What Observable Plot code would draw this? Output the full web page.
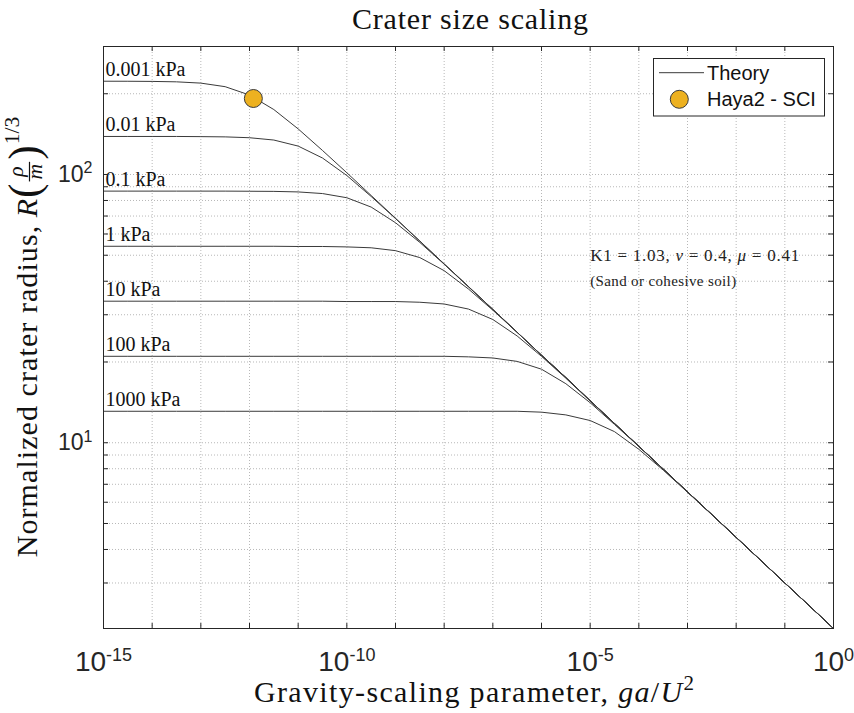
<!DOCTYPE html>
<html>
<head>
<meta charset="utf-8">
<script src="https://cdn.jsdelivr.net/npm/d3@7"></script>
<script src="https://cdn.jsdelivr.net/npm/@observablehq/plot@0.6"></script>
<style>
  body { margin: 0; background: #fff; }
  #chart svg { display: block; }
</style>
</head>
<body>
<div id="chart"></div>
<script>
// Gravity-scaling parameter ga/U^2, sampled every half decade from 1e-15 to 1
const gravityParam = [
  1e-15, 3.162e-15, 1e-14, 3.162e-14, 1e-13, 3.162e-13, 1e-12, 3.162e-12,
  1e-11, 3.162e-11, 1e-10, 3.162e-10, 1e-9, 3.162e-9, 1e-8, 3.162e-8,
  1e-7, 3.162e-7, 1e-6, 3.162e-6, 1e-5, 3.162e-5, 1e-4, 3.162e-4,
  1e-3, 3.162e-3, 1e-2, 3.162e-2, 1e-1, 3.162e-1, 1
];

// Target strength of each theory curve
const strengthLabels = ["0.001 kPa", "0.01 kPa", "0.1 kPa", "1 kPa", "10 kPa", "100 kPa", "1000 kPa"];

// Normalized crater radius R(rho/m)^(1/3) along each curve
const radius0001kPa = [222.7, 222.6, 222.3, 221.5, 219.1, 212.5, 197.8, 174.6, 147.9, 122.9, 101.5, 83.5, 68.7, 56.5, 46.4, 38.2,
                       31.4, 25.8, 21.2, 17.5, 14.35, 11.8, 9.70, 7.98, 6.56, 5.40, 4.44, 3.65, 3.00, 2.47, 2.03];
const radius001kPa  = [138.6, 138.6, 138.6, 138.6, 138.4, 138.1, 137.1, 134.4, 127.6, 115.2, 99.1, 82.8, 68.5, 56.4, 46.4, 38.2,
                       31.4, 25.8, 21.2, 17.5, 14.35, 11.8, 9.70, 7.98, 6.56, 5.40, 4.44, 3.65, 3.00, 2.47, 2.03];
const radius01kPa   = [86.7, 86.7, 86.7, 86.7, 86.7, 86.7, 86.6, 86.5, 86.1, 84.9, 81.9, 75.6, 66.1, 55.8, 46.3, 38.1,
                       31.4, 25.8, 21.2, 17.5, 14.35, 11.8, 9.70, 7.98, 6.56, 5.40, 4.44, 3.65, 3.00, 2.47, 2.03];
const radius1kPa    = [54.0, 54.0, 54.0, 54.0, 54.0, 54.0, 54.0, 54.0, 53.9, 53.9, 53.7, 53.3, 52.0, 49.0, 43.8, 37.4,
                       31.2, 25.8, 21.2, 17.5, 14.35, 11.8, 9.70, 7.98, 6.56, 5.40, 4.44, 3.65, 3.00, 2.47, 2.03];
const radius10kPa   = [33.7, 33.7, 33.7, 33.7, 33.7, 33.7, 33.7, 33.7, 33.7, 33.7, 33.6, 33.6, 33.6, 33.4, 32.9, 31.5,
                       28.8, 25.0, 21.0, 17.4, 14.3, 11.8, 9.70, 7.98, 6.56, 5.40, 4.44, 3.65, 3.00, 2.47, 2.03];
const radius100kPa  = [21.0, 21.0, 21.0, 21.0, 21.0, 21.0, 21.0, 21.0, 21.0, 21.0, 21.0, 21.0, 21.0, 21.0, 21.0, 20.9,
                       20.7, 20.1, 18.8, 16.6, 14.1, 11.7, 9.69, 7.97, 6.56, 5.40, 4.44, 3.65, 3.00, 2.47, 2.03];
const radius1000kPa = [13.1, 13.1, 13.1, 13.1, 13.1, 13.1, 13.1, 13.1, 13.1, 13.1, 13.1, 13.1, 13.1, 13.1, 13.1, 13.1,
                       13.1, 13.1, 13.0, 12.7, 12.1, 11.0, 9.45, 7.91, 6.54, 5.39, 4.43, 3.65, 3.00, 2.47, 2.03];
const radiusSeries = [radius0001kPa, radius001kPa, radius01kPa, radius1kPa, radius10kPa, radius100kPa, radius1000kPa];

// Observed point
const haya2Label = "Haya2 - SCI";
const haya2Gravity = [1.2e-12];
const haya2Radius = [192];

// Axis ticks and grid
const xTickValues = [1e-15, 1e-10, 1e-5, 1];
const xDecades = [1e-15, 1e-14, 1e-13, 1e-12, 1e-11, 1e-10, 1e-9, 1e-8, 1e-7, 1e-6, 1e-5, 1e-4, 1e-3, 1e-2, 1e-1, 1];
const yTickValues = [10, 100];
const yMinorValues = [3, 4, 5, 6, 7, 8, 9, 10, 20, 30, 40, 50, 60, 70, 80, 90, 100, 200, 300];

// Scaling-law parameters note
const noteLines = ["K1 = 1.03, ν = 0.4, μ = 0.41", "(Sand or cohesive soil)"];
const noteGravity = [1e-5, 1e-5];
const noteRadius = [50, 40];
const noteSizes = [17, 15];
const noteWidths = [209, 146];

// Long-format tables for the marks
const theory = strengthLabels.flatMap((label, i) =>
  gravityParam.map((g, j) => ({label, g, r: radiusSeries[i][j]})));
const curveLabels = strengthLabels.map((label, i) => ({label, g: gravityParam[0], r: radiusSeries[i][0]}));
const haya2 = haya2Gravity.map((g, i) => ({g, r: haya2Radius[i]}));
const note = noteLines.map((t, i) => ({t, g: noteGravity[i], r: noteRadius[i], s: noteSizes[i]}));

const W = 854, H = 713;
const M = {top: 46, right: 21, bottom: 85, left: 103};
const innerW = W - M.left - M.right;
const innerH = H - M.top - M.bottom;
const tickLen = 5;
const ink = "#262626";
const serif = "Liberation Serif";
const sans = "Liberation Sans";
const gridStyle = {stroke: "#b8b8b8", strokeOpacity: 1, strokeWidth: 1, strokeDasharray: "1,2"};

const chart = Plot.plot({
  width: W,
  height: H,
  marginTop: M.top,
  marginRight: M.right,
  marginBottom: M.bottom,
  marginLeft: M.left,
  style: {fontFamily: sans, color: ink, background: "#fff"},
  x: {type: "log", domain: [1e-15, 1]},
  y: {type: "log", domain: [2.03, 300]},
  marks: [
    Plot.gridX(xDecades, gridStyle),
    Plot.gridY(yMinorValues, gridStyle),
    Plot.line(theory, {x: "g", y: "r", z: "label", stroke: "#3a3a3a", strokeWidth: 1}),
    Plot.text(curveLabels, {
      x: "g", y: "r", text: "label", textAnchor: "start", lineAnchor: "bottom",
      dx: 2, dy: -5, fontFamily: serif, fontSize: 20, fill: "#111"
    }),
    Plot.dot(haya2, {x: "g", y: "r", r: 9, fill: "#EDB120", stroke: "#3a3a3a", strokeWidth: 1}),
    Plot.text(note, {
      x: "g", y: "r", text: "t", fontSize: "s", textAnchor: "start", lineAnchor: "middle",
      fontFamily: serif, fill: "#222"
    }),
    Plot.frame({stroke: ink, strokeWidth: 1}),
    Plot.tickX(xDecades, {x: d => d, insetTop: innerH - tickLen, stroke: ink}),
    Plot.tickX(xDecades, {x: d => d, insetBottom: innerH - tickLen, stroke: ink}),
    Plot.tickY(yMinorValues, {y: d => d, insetRight: innerW - tickLen, stroke: ink}),
    Plot.tickY(yMinorValues, {y: d => d, insetLeft: innerW - tickLen, stroke: ink}),
    Plot.axisX(xTickValues, {
      tickSize: 0, tickPadding: 23, fontSize: 28, label: null, fill: ink,
      tickFormat: d => `10^${Math.round(Math.log10(d))}`
    }),
    Plot.axisY(yTickValues, {
      tickSize: 0, tickPadding: 11, fontSize: 23, label: null, fill: ink,
      tickFormat: d => `10^${Math.round(Math.log10(d))}`
    })
  ]
});

document.getElementById("chart").appendChild(chart);
const svg = d3.select(chart);

// Power-of-ten tick labels with a raised exponent
function raiseExponent(selection, supSize, raise) {
  selection.each(function () {
    const [base, exp] = this.textContent.split("^");
    this.textContent = "";
    const t = d3.select(this);
    t.append("tspan").text(base);
    t.append("tspan").attr("font-size", supSize).attr("dy", -raise).text(exp);
  });
}
raiseExponent(svg.selectAll('g[aria-label="x-axis tick label"] text'), 18, 10);
raiseExponent(svg.selectAll('g[aria-label="y-axis tick label"] text'), 16, 8.4);

// Greek symbols of the note in italics, each line spread to its set width
svg.selectAll("text")
  .filter(function () { return noteLines.includes(this.textContent); })
  .each(function () {
    const line = this.textContent;
    const idx = noteLines.indexOf(line);
    const parts = line.split(/([νμ])/);
    this.textContent = "";
    const t = d3.select(this);
    parts.forEach(p => {
      if (!p) return;
      const s = t.append("tspan").text(p);
      if (p === "ν" || p === "μ") s.attr("font-style", "italic");
    });
    t.attr("textLength", noteWidths[idx]).attr("lengthAdjust", "spacing");
  });

const plotCenterX = M.left + innerW / 2;
const plotCenterY = M.top + innerH / 2;

// Title
svg.append("text")
  .attr("x", plotCenterX + 2).attr("y", 29)
  .attr("text-anchor", "middle")
  .attr("font-family", serif).attr("font-size", 30).attr("fill", "#111")
  .attr("textLength", 236).attr("lengthAdjust", "spacing")
  .text("Crater size scaling");

// X axis title: Gravity-scaling parameter, ga/U^2
const xTitle = svg.append("text")
  .attr("x", plotCenterX + 6).attr("y", 702)
  .attr("text-anchor", "middle")
  .attr("font-family", serif).attr("font-size", 30).attr("fill", "#111")
  .attr("textLength", 440).attr("lengthAdjust", "spacing");
xTitle.append("tspan").text("Gravity-scaling parameter, ");
xTitle.append("tspan").attr("font-style", "italic").text("ga");
xTitle.append("tspan").text("/");
xTitle.append("tspan").attr("font-style", "italic").text("U");
xTitle.append("tspan").attr("font-size", 21).attr("dy", -12).text("2");

// Y axis title: Normalized crater radius, R(rho/m)^(1/3), built along the rotated baseline
(function yTitle() {
  const F = 30;
  const outer = svg.append("g")
    .attr("transform", `translate(37,${plotCenterY}) rotate(-90)`)
    .attr("font-family", serif).attr("fill", "#111").attr("text-anchor", "start");
  const g = outer.append("g");
  let pos = 0;
  const put = (txt, {size = F, italic = false, dy = 0, length = null} = {}) => {
    const t = g.append("text").attr("x", pos).attr("y", dy).attr("font-size", size)
      .attr("text-anchor", "start").text(txt);
    if (italic) t.attr("font-style", "italic");
    if (length) t.attr("textLength", length).attr("lengthAdjust", "spacing");
    const w = length || t.node().getComputedTextLength();
    pos += w;
    return w;
  };
  put("Normalized crater radius, ", {length: 340});
  put("R", {italic: true});
  pos += 1;
  put("(", {size: 1.45 * F, dy: 0.05 * F});
  pos += 2;
  // stacked fraction rho over m
  const fs = 0.72 * F;
  const num = g.append("text").attr("font-size", fs).attr("font-style", "italic")
    .attr("text-anchor", "start").attr("y", -0.47 * F).text("ρ");
  const den = g.append("text").attr("font-size", fs).attr("font-style", "italic")
    .attr("text-anchor", "start").attr("y", 0.17 * F).text("m");
  const wn = num.node().getComputedTextLength();
  const wd = den.node().getComputedTextLength();
  const fw = Math.max(wn, wd) + 4;
  num.attr("x", pos + (fw - wn) / 2);
  den.attr("x", pos + (fw - wd) / 2);
  g.append("line").attr("x1", pos).attr("x2", pos + fw)
    .attr("y1", -0.25 * F).attr("y2", -0.25 * F)
    .attr("stroke", "#111").attr("stroke-width", 1.2);
  pos += fw + 2;
  put(")", {size: 1.45 * F, dy: 0.05 * F});
  pos += 1;
  put("1/3", {size: 0.72 * F, dy: -0.6 * F});
  g.attr("transform", `translate(${-pos / 2},0)`);
})();

// Legend box
(function legend() {
  const lg = svg.append("g").attr("font-family", sans).attr("font-size", 20)
    .attr("fill", "#111").attr("text-anchor", "start");
  lg.append("rect").attr("x", 653.5).attr("y", 58.5).attr("width", 171).attr("height", 57.5)
    .attr("fill", "#fff").attr("stroke", ink).attr("stroke-width", 1);
  lg.append("line").attr("x1", 659).attr("x2", 704).attr("y1", 72.7).attr("y2", 72.7)
    .attr("stroke", "#3a3a3a").attr("stroke-width", 1);
  lg.append("text").attr("x", 707).attr("y", 72.7).attr("dy", "0.35em").text("Theory");
  lg.append("circle").attr("cx", 679.3).attr("cy", 99.3).attr("r", 9)
    .attr("fill", "#EDB120").attr("stroke", "#3a3a3a").attr("stroke-width", 1);
  lg.append("text").attr("x", 707).attr("y", 98.5).attr("dy", "0.35em").text(haya2Label);
})();
</script>
</body>
</html>
